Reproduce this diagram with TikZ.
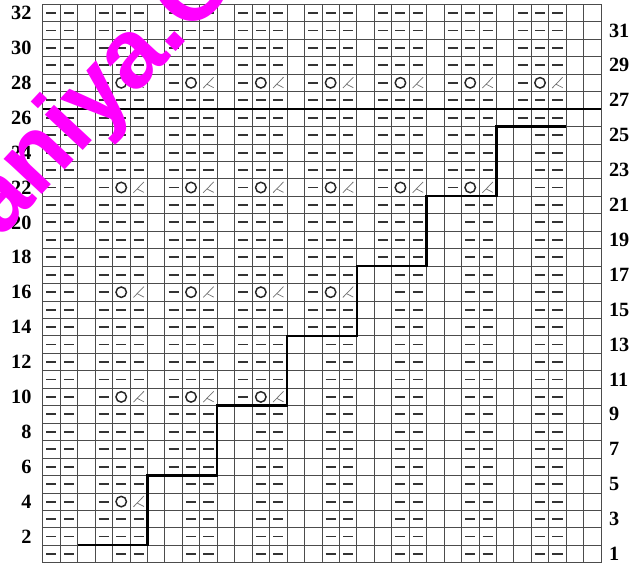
\documentclass[tikz,border=0pt]{standalone}
\usepackage{fontspec}
\setmainfont{Liberation Serif}
\newfontfamily\wmfont{Liberation Sans}
\definecolor{wmpink}{RGB}{255,0,255}

\tikzset{
  gridline/.style={draw=black!70, line width=0.6pt},
  stairline/.style={draw=black, line width=2pt},
  purl/.style={draw=black!80, line width=1.5pt},
  yarnover/.style={draw=black!85, line width=1.2pt},
  ktog/.style={draw=black!55, line width=0.6pt},
  rowlabel/.style={font=\bfseries\fontsize{16.5}{16.5}\selectfont, inner sep=0pt},
  watermark/.style={text=wmpink, inner sep=0pt, font=\wmfont\bfseries\fontsize{80}{80}\selectfont},
}

% symbols in cell (col,row)
\newcommand{\purlat}[2]{\draw[purl] (#1-0.79,#2-0.5) -- (#1-0.21,#2-0.5);}
\newcommand{\yoat}[2]{\draw[yarnover] (#1-0.5,#2-0.5) circle (0.15cm);}
\newcommand{\ktogat}[2]{%
  \draw[ktog] (#1-0.8,#2-0.8) -- (#1-0.2,#2-0.18);
  \draw[ktog] (#1-0.59,#2-0.58) -- (#1-0.2,#2-0.78);}

\begin{document}
\begin{tikzpicture}[x=0.5cm, y=0.5cm]
  \useasboundingbox (-2.447,-0.075) rectangle (34.23,32.246);

  % grid
  \draw[gridline, step=0.5cm] (0,0) grid (32,32);

  % stitches
  \foreach \row in {1,...,32}{
    \pgfmathtruncatemacro{\bnd}{\row<2 ? 2 : 6+4*floor((\row-2)/4)}
    \pgfmathtruncatemacro{\eyelet}{mod(\row+2,6)==0 ? 1 : 0}
    \purlat{1}{\row}
    \purlat{2}{\row}
    \foreach \col in {4,...,30}{
      \pgfmathtruncatemacro{\mm}{mod(\col-4,4)}
      \ifnum\mm<3
        \ifnum\col>\bnd
          \ifnum\mm>0 \purlat{\col}{\row}\fi
        \else
          \ifnum\eyelet=1
            \ifcase\mm \purlat{\col}{\row}\or \yoat{\col}{\row}\or \ktogat{\col}{\row}\fi
          \else
            \purlat{\col}{\row}
          \fi
        \fi
      \fi
    }
  }

  % staircase and top border
  \draw[stairline] (2,1) -- (6,1) -- (6,5) -- (10,5) -- (10,9) -- (14,9) -- (14,13)
    -- (18,13) -- (18,17) -- (22,17) -- (22,21) -- (26,21) -- (26,25) -- (30,25);
  \draw[stairline] (0,26) -- (32,26);

  % row numbers
  \foreach \row in {2,4,...,32}
    \node[rowlabel, anchor=east] (l\row) at (-0.63,\row-0.5) {\row};
  \foreach \row in {1,3,...,31}
    \node[rowlabel, anchor=west] (r\row) at (32.44,\row-0.5) {\row};

  % watermark
  \begin{scope}
    \clip (-2.447,-0.075) rectangle (34.23,32.246);
    \node[watermark, rotate=47, anchor=base west] (wm) at (-2.42,18.5) {aniya.C};
  \end{scope}
\end{tikzpicture}
\end{document}
